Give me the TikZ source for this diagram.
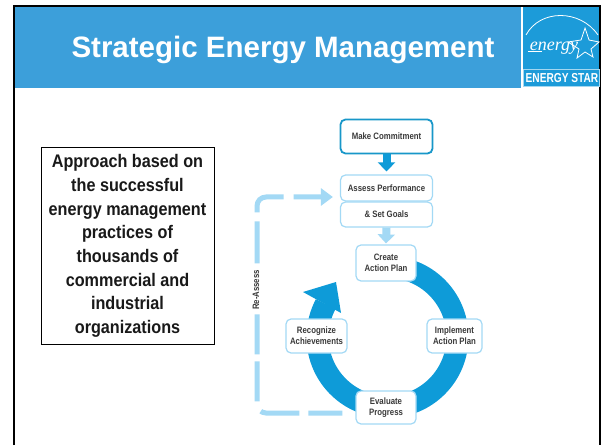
\documentclass[tikz,border=0pt]{standalone}
\usepackage{fontspec}
\setmainfont{Liberation Sans}
\newfontfamily\narrowfont[FakeStretch=0.84]{Liberation Sans}
\newfontfamily\boxfont[FakeStretch=0.89]{Liberation Sans}
\newfontfamily\logofont{Liberation Serif}
\usetikzlibrary{arrows.meta,shapes.geometric}
\definecolor{headblue}{HTML}{3C9FDA}
\definecolor{logoblue}{HTML}{1C9BD9}
\definecolor{ringblue}{HTML}{0E9BD8}
\definecolor{lightblue}{HTML}{A3D9F5}
\definecolor{darkedge}{HTML}{1897C9}
\definecolor{txt}{HTML}{3A3A3A}
\tikzset{x=1pt,y=1pt,
  stepbox/.style={draw=lightblue,line width=1.2pt,rounded corners=5pt,fill=white,align=center,
    inner sep=0pt,font=\narrowfont\bfseries\fontsize{9.3}{11}\selectfont,text=txt},
  ringstroke/.style={draw=ringblue,line width=22pt},
  solidarrow/.style={-{Triangle[width=17pt,length=9pt]},line width=8pt},
}
\begin{document}
\begin{tikzpicture}
\useasboundingbox (0,0) rectangle (602,445);
\fill[white] (0,0) rectangle (602,445);
% header
\fill[headblue] (15,356.5) rectangle (521,439);
\fill[logoblue] (523,358) rectangle (599,439);
\draw[black,line width=2pt] (14,0) -- (14,439) -- (600,439) -- (600,0);
\node[text=white,anchor=base,inner sep=0pt,font=\bfseries\fontsize{29.5}{32}\selectfont] (title) at (283,387) {Strategic Energy Management};
% logo
\draw[white,line width=0.8pt] (526,410) .. controls (540,436) and (580,436) .. (598,410);
\draw[white,line width=0.6pt] (528,394) -- (542,394);
\node[text=white,font=\logofont\itshape\fontsize{18}{18}\selectfont] (energy) at (554,397) {energy};
\draw[white,line width=0.8pt] (585,417) -- (589,405) -- (599,403) -- (591,396) -- (593,388) -- (585,393) -- (577,387) -- (579,396) -- (568,403) -- (581,405) -- cycle;
\draw[white!60!logoblue,line width=0.8pt] (523.5,358.5) rectangle (599,376);
\node[text=white,font=\narrowfont\bfseries\fontsize{13}{13}\selectfont,xscale=0.93] (star) at (562,367) {ENERGY STAR};
% text box
\node[draw=black,line width=1pt,minimum width=173pt,minimum height=196pt,inner sep=0pt,align=center,
  font=\boxfont\bfseries\fontsize{18.2}{23.7}\selectfont,text=black!90] (approach) at (127.5,199)
  {Approach based on\\the successful\\energy management\\practices of\\thousands of\\commercial and\\industrial\\organizations};
% ring
\coordinate (ringc) at (387.5,108);
\draw[ringstroke] (ringc) ++(85:70) arc[start angle=85,end angle=-208,radius=70];
\fill[ringblue] (336,163) coordinate (tip) -- (303,153) -- (341,132) -- cycle;
% steps
\node[stepbox,draw=darkedge,line width=1.8pt,minimum width=92pt,minimum height=34pt] (make) at (386.5,308.5) {Make Commitment};
\node[stepbox,minimum width=92pt,minimum height=26pt] (assess) at (386.5,257) {Assess Performance};
\node[stepbox,minimum width=92pt,minimum height=25pt] (goals) at (386.5,230.5) {\& Set Goals};
\node[stepbox,minimum width=60pt,minimum height=36pt] (create) at (386,182) {Create\\Action Plan};
\node[stepbox,minimum width=55pt,minimum height=34pt] (implement) at (454.5,109) {Implement\\Action Plan};
\node[stepbox,minimum width=61pt,minimum height=34pt] (recognize) at (316.5,109) {Recognize\\Achievements};
\node[stepbox,minimum width=60pt,minimum height=33pt] (evaluate) at (386,37.5) {Evaluate\\Progress};
% connectors
\draw[solidarrow,draw=ringblue] (make.south) -- ([yshift=3pt]assess.north);
\draw[solidarrow,draw=lightblue] (goals.south) -- ([yshift=1pt]create.north);
\draw[lightblue,line width=5pt,dash pattern=on 34pt off 9pt on 39pt off 11pt on 40pt off 7pt on 40pt off 51pt on 42pt off 9pt on 38pt off 10pt on 100pt off 1pt,
  rounded corners=9pt,-{Triangle[width=17pt,length=12pt]}]
  ([xshift=-13pt,yshift=-5.5pt]evaluate.west) -- (257,32) -- (257,248) -- ([xshift=-7pt,yshift=-9pt]assess.west);
\node[rotate=90,inner sep=0pt,font=\narrowfont\bfseries\fontsize{9.3}{11}\selectfont,text=txt] (reassess) at (256,155) {Re-Assess};
\end{tikzpicture}
\end{document}
